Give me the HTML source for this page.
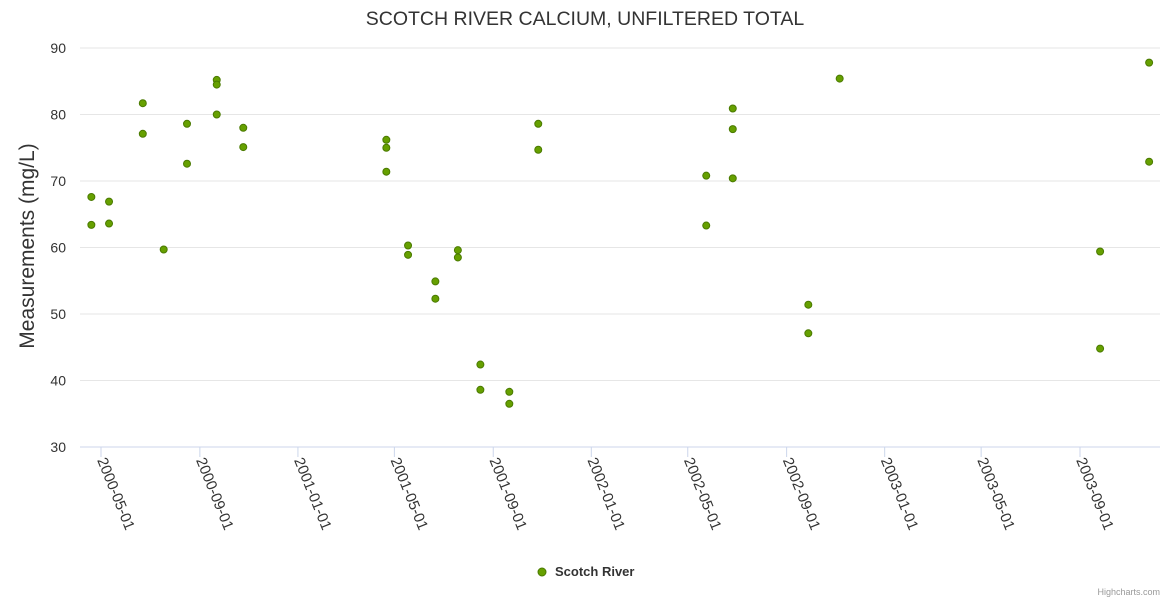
<!DOCTYPE html>
<html><head><meta charset="utf-8"><style>
body{margin:0;background:#fff;}
svg{font-family:"Liberation Sans",sans-serif;}
</style></head><body>
<svg id="chart" width="1170" height="600">
<text x="585" y="25" text-anchor="middle" font-size="19.5" fill="#333">SCOTCH RIVER CALCIUM, UNFILTERED TOTAL</text>
<text transform="translate(34,246) rotate(-90)" text-anchor="middle" font-size="21" fill="#333">Measurements (mg/L)</text>
<g id="grid"></g><g id="xaxis"></g><g id="pts"></g>
<g>
<circle cx="542" cy="572" r="4" fill="#66a000" stroke="#4a7a00" stroke-width="1"/>
<text x="555" y="576" font-size="13" font-weight="bold" fill="#333">Scotch River</text>
</g>
<text x="1160" y="595" text-anchor="end" font-size="9" fill="#999">Highcharts.com</text>
</svg>
<script>
const dates=["2000-04-19","2000-04-19","2000-05-11","2000-05-11","2000-06-22","2000-06-22","2000-07-18","2000-08-16","2000-08-16","2000-09-22","2000-09-22","2000-09-22","2000-10-25","2000-10-25","2001-04-21","2001-04-21","2001-04-21","2001-05-18","2001-05-18","2001-06-21","2001-06-21","2001-07-19","2001-07-19","2001-08-16","2001-08-16","2001-09-21","2001-09-21","2001-10-27","2001-10-27","2002-05-24","2002-05-24","2002-06-26","2002-06-26","2002-06-26","2002-09-28","2002-09-28","2002-11-06","2003-09-26","2003-09-26","2003-11-26","2003-11-26"];
const values=[67.6,63.4,66.9,63.6,81.7,77.1,59.7,78.6,72.6,85.2,84.5,80.0,78.0,75.1,76.2,75.0,71.4,60.3,58.9,54.9,52.3,59.6,58.5,42.4,38.6,38.3,36.5,78.6,74.7,70.8,63.3,80.9,77.8,70.4,51.4,47.1,85.4,59.4,44.8,87.8,72.9];
const xTicks=["2000-05-01","2000-09-01","2001-01-01","2001-05-01","2001-09-01","2002-01-01","2002-05-01","2002-09-01","2003-01-01","2003-05-01","2003-09-01"];
const yTicks=[30,40,50,60,70,80,90];
const NS="http://www.w3.org/2000/svg";
const t0=Date.parse("2000-05-01"),t1=Date.parse("2003-09-01");
function X(d){return 101+(Date.parse(d)-t0)/(t1-t0)*979;}
function Y(v){return 447-(v-30)/60*399;}
function mk(tag,attrs,parent){const e=document.createElementNS(NS,tag);for(const k in attrs)e.setAttribute(k,attrs[k]);parent.appendChild(e);return e;}
const grid=document.getElementById('grid'),xa=document.getElementById('xaxis'),pts=document.getElementById('pts');
yTicks.forEach(v=>{
 const l=mk('line',{x1:80,x2:1160,y1:Y(v),y2:Y(v),stroke:v===30?'#ccd6eb':'#e6e6e6','stroke-width':1},grid);
 
 
 const t=mk('text',{x:66,y:Y(v)+5,'text-anchor':'end','font-size':14,fill:'#333'},grid);
 t.textContent=v;
 
 
});
xTicks.forEach(d=>{
 const x=X(d);
 const l=mk('line',{x1:x,x2:x,y1:447,y2:457,stroke:'#ccd6eb'},xa);
 
 
 const t=mk('text',{x:0,y:0,'font-size':15,fill:'#333',transform:`translate(${x-4},${460}) rotate(68)`},xa);
 t.textContent=d;
 
 
});
dates.forEach((d,i)=>{
 const c=mk('circle',{cx:X(d),cy:Y(values[i]),r:3.5,fill:'#66a000',stroke:'#4a7a00','stroke-width':1},pts);
 
 
});
</script>
</body></html>
